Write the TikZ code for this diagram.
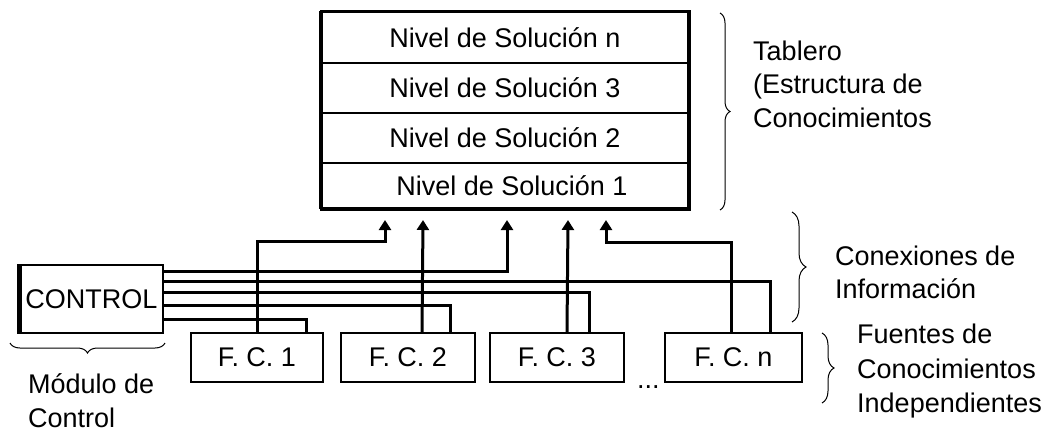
\documentclass[tikz,border=0pt]{standalone}
\usepackage{fontspec}
\setmainfont{Liberation Sans}
\usetikzlibrary{arrows.meta,decorations.pathreplacing,calc}
\begin{document}
\begin{tikzpicture}[x=1pt,y=-1pt,
  txt/.style={font=\fontsize{27}{31}\selectfont, inner sep=0pt},
  lbl/.style={txt, anchor=base west},
  row/.style={draw, line width=2pt, minimum width=366pt, minimum height=#1, inner sep=0pt, txt},
  fcbox/.style={draw, line width=2pt, minimum width=#1, minimum height=49pt, inner sep=0pt, txt},
  conn/.style={line width=3pt},
  arr/.style={conn, -{Triangle[width=12pt,length=10pt]}},
  brc/.style={decorate, decoration={brace, amplitude=#1}, line width=1pt}
]
\useasboundingbox (0,0) rectangle (1055,432);

% board
\node[row=51pt] (rn) at (505,37.5) {Nivel de Solución n};
\node[row=50pt] (r3) at (505,88) {Nivel de Solución 3};
\node[row=50pt] (r2) at (505,138) {Nivel de Solución 2};
\node[row=45pt] (r1) at (505,185.5) {\hspace{14pt}Nivel de Solución 1};
\draw[line width=3pt] (rn.north west) rectangle (r1.south east);
\draw[line width=4pt] (rn.north west) -- (r1.south west);

% control
\node[draw, line width=2pt, minimum width=143pt, minimum height=68pt, inner sep=0pt, txt] (ctrl) at (91.5,299) {CONTROL};
\draw[line width=5pt] (ctrl.north west) -- (ctrl.south west);

% knowledge sources
\node[fcbox=132pt] (fc1) at (257,357.5) {F. C. 1};
\node[fcbox=134pt] (fc2) at (408,357.5) {F. C. 2};
\node[fcbox=134pt] (fc3) at (557,357.5) {F. C. 3};
\node[fcbox=137pt] (fcn) at (733.5,357.5) {F. C. n};
\node[lbl] (dots) at (637,388) {...};

% arrow targets
\coordinate (t1) at (385,220);
\coordinate (t2) at (423,220);
\coordinate (t3) at (507,220);
\coordinate (t4) at (568,220);
\coordinate (t5) at (606,220);

% control lines
\draw[arr] ($(ctrl.north east)+(0,7)$) -| (t3);
\draw[conn] ($(ctrl.north east)+(0,17)$) -| ($(fcn.north west)+(106,0)$);
\draw[conn] ($(ctrl.north east)+(0,28)$) -| ($(fc3.north west)+(100,0)$);
\draw[conn] ($(ctrl.north east)+(0,41)$) -| ($(fc2.north west)+(110,0)$);
\draw[conn] ($(ctrl.north east)+(0,55)$) -| ($(fc1.north west)+(116,0)$);

% source to board
\draw[arr] (fc1.north) -- ++(0,-91) -| (t1);
\draw[arr] ($(fc2.north west)+(82,0)$) -- (t2);
\draw[arr] ($(fc3.north west)+(78,0)$) -- (t4);
\draw[arr] ($(fcn.north west)+(67,0)$) -- ++(0,-90) -| (t5);

% braces
\draw[brc=10pt] (720,13) -- (720,210);
\draw[brc=14pt] (792,212) -- (792,322);
\draw[brc=12pt] (822,333) -- (822,403);
\draw[brc=10pt] (165,343) -- (10,343);

% labels
\node[lbl] (l1) at (753,60) {Tablero};
\node[lbl] (l2) at (753,93) {(Estructura de};
\node[lbl] (l3) at (753,127) {Conocimientos};
\node[lbl] (l4) at (835,265) {Conexiones de};
\node[lbl] (l5) at (835,298) {Información};
\node[lbl] (l6) at (857,343) {Fuentes de};
\node[lbl] (l7) at (857,378) {Conocimientos};
\node[lbl] (l8) at (857,412) {Independientes};
\node[lbl] (l9) at (28,393) {Módulo de};
\node[lbl] (l10) at (28,427) {Control};
\end{tikzpicture}
\end{document}
